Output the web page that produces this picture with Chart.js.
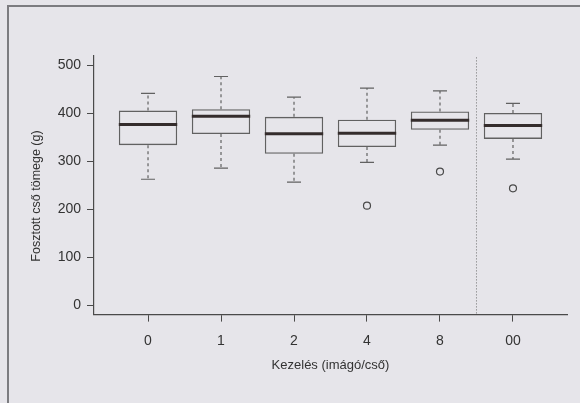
<!DOCTYPE html>
<html>
<head>
<meta charset="utf-8">
<title>Fosztott cső tömege</title>
<script src="https://cdn.jsdelivr.net/npm/chart.js@4/dist/chart.umd.min.js"></script>
<style>
  html, body { margin: 0; padding: 0; background: #e6e5ea; }
  #wrap { width: 580px; height: 403px; }
</style>
</head>
<body>
<div id="wrap"><canvas id="boxChart" width="580" height="403"></canvas></div>
<script>
// Data
const categories = ["0", "1", "2", "4", "8", "00"];
const xPositions = [1, 2, 3, 4, 5, 6];
const lowerWhisker = [262, 285, 256, 297, 333, 304];
const q1 = [333, 356, 315, 329, 365, 346];
const median = [376, 393, 357, 358, 385, 374];
const q3 = [405, 408, 392, 386, 403, 400];
const upperWhisker = [441, 476, 433, 452, 446, 420];
const outlierX = [4, 5, 6];
const outlierY = [207, 278, 243];
const yTicks = [0, 100, 200, 300, 400, 500];
const separatorAt = 5.5; // dotted line between "8" and "00"

const INK = "#333333";
const BOX = "#616161";
const FONT = "'Liberation Sans', Arial, sans-serif";

// whiskers, caps, medians, separator and y title
const boxExtras = {
  id: "boxExtras",
  beforeDraw(chart) {
    const ctx = chart.ctx;
    ctx.save();
    ctx.fillStyle = "#e6e5ea";
    ctx.fillRect(0, 0, chart.width, chart.height);
    // frame of the scanned page
    ctx.strokeStyle = "#7c7c80";
    ctx.lineWidth = 2;
    ctx.beginPath();
    ctx.moveTo(8, chart.height);
    ctx.lineTo(8, 6);
    ctx.lineTo(chart.width, 6);
    ctx.stroke();
    ctx.restore();
  },
  afterDatasetsDraw(chart) {
    const ctx = chart.ctx;
    const x = chart.scales.x;
    const y = chart.scales.y;
    const bars = chart.getDatasetMeta(0).data;
    const area = chart.chartArea;
    ctx.save();

    xPositions.forEach((pos, i) => {
      const cx = x.getPixelForValue(pos);
      const hw = bars[i].width / 2;
      const cap = hw * 0.24;
      const yLo = y.getPixelForValue(lowerWhisker[i]);
      const yQ1 = y.getPixelForValue(q1[i]);
      const yQ3 = y.getPixelForValue(q3[i]);
      const yHi = y.getPixelForValue(upperWhisker[i]);
      const yMed = y.getPixelForValue(median[i]);

      // dashed whiskers
      ctx.strokeStyle = BOX;
      ctx.lineWidth = 1.2;
      ctx.setLineDash([3, 3]);
      ctx.beginPath();
      ctx.moveTo(cx, yQ3);
      ctx.lineTo(cx, yHi);
      ctx.moveTo(cx, yQ1);
      ctx.lineTo(cx, yLo);
      ctx.stroke();

      // caps
      ctx.setLineDash([]);
      ctx.beginPath();
      ctx.moveTo(cx - cap, yHi);
      ctx.lineTo(cx + cap, yHi);
      ctx.moveTo(cx - cap, yLo);
      ctx.lineTo(cx + cap, yLo);
      ctx.stroke();

      // median
      ctx.strokeStyle = "#342c2c";
      ctx.lineWidth = 3;
      ctx.beginPath();
      ctx.moveTo(cx - hw, yMed);
      ctx.lineTo(cx + hw, yMed);
      ctx.stroke();
    });

    // dotted separator
    const sx = x.getPixelForValue(separatorAt);
    ctx.strokeStyle = "#6e6e6e";
    ctx.lineWidth = 1;
    ctx.setLineDash([1, 2]);
    ctx.beginPath();
    ctx.moveTo(sx, area.top + 2);
    ctx.lineTo(sx, area.bottom);
    ctx.stroke();
    ctx.setLineDash([]);

    // y axis title
    ctx.fillStyle = INK;
    ctx.font = "12.5px " + FONT;
    ctx.textAlign = "center";
    ctx.textBaseline = "middle";
    ctx.translate(area.left - 57, (area.top + area.bottom) / 2 + 11);
    ctx.rotate(-Math.PI / 2);
    ctx.fillText("Fosztott cső tömege (g)", 0, 0);
    ctx.restore();
  }
};

const boxData = xPositions.map((pos, i) => ({ x: pos, y: [q1[i], q3[i]] }));
const outlierData = outlierX.map((pos, i) => ({ x: pos, y: outlierY[i] }));

new Chart(document.getElementById("boxChart"), {
  type: "bar",
  data: {
    datasets: [
      {
        label: "Box",
        data: boxData,
        backgroundColor: "rgba(0,0,0,0)",
        borderColor: BOX,
        borderWidth: 1.3,
        borderSkipped: false,
        categoryPercentage: 1,
        barPercentage: 0.8,
      },
      {
        type: "scatter",
        label: "Outliers",
        data: outlierData,
        pointStyle: "circle",
        pointRadius: 3.5,
        pointBorderWidth: 1.2,
        pointBorderColor: "#4a4a4a",
        pointBackgroundColor: "rgba(0,0,0,0)",
      },
    ],
  },
  options: {
    responsive: false,
    animation: false,
    layout: { padding: { top: 55.4, right: 13, left: 0, bottom: 0 } },
    plugins: {
      legend: { display: false },
      tooltip: { enabled: false },
    },
    scales: {
      x: {
        type: "linear",
        min: 0.26,
        max: 6.74,
        offset: false,
        afterBuildTicks: (scale) => {
          scale.ticks = xPositions.map((v) => ({ value: v }));
        },
        afterFit: (scale) => {
          scale.height = 88.4;
        },
        ticks: {
          callback: (value, index) => categories[index],
          color: INK,
          font: { family: FONT, size: 14 },
          padding: 11,
          maxRotation: 0,
        },
        grid: {
          offset: false,
          drawOnChartArea: false,
          drawTicks: true,
          tickLength: 7,
          color: "#4a4a4a",
        },
        border: { display: true, color: "#4a4a4a", width: 1.2 },
        title: {
          display: true,
          text: "Kezelés (imágó/cső)",
          color: INK,
          font: { family: FONT, size: 13 },
          padding: { top: 0, bottom: 30 },
        },
      },
      y: {
        type: "linear",
        min: -20,
        max: 520,
        afterBuildTicks: (scale) => {
          scale.ticks = yTicks.map((v) => ({ value: v }));
        },
        afterFit: (scale) => {
          scale.width = 94;
        },
        ticks: {
          color: INK,
          font: { family: FONT, size: 14 },
          padding: 6,
        },
        grid: {
          drawOnChartArea: false,
          drawTicks: true,
          tickLength: 7,
          color: "#4a4a4a",
        },
        border: { display: true, color: "#4a4a4a", width: 1.2 },
      },
    },
  },
  plugins: [boxExtras],
});
</script>
</body>
</html>
